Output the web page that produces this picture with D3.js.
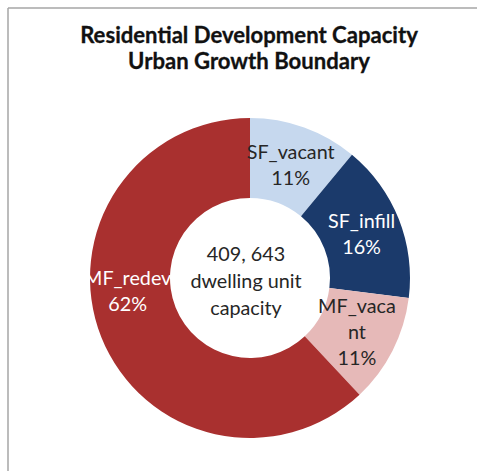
<!DOCTYPE html>
<html>
<head>
<meta charset="utf-8">
<script src="https://cdn.jsdelivr.net/npm/d3@7"></script>
<style>
  html, body { margin: 0; padding: 0; background: #ffffff; }
  svg { display: block; }
</style>
</head>
<body>
<svg id="chart" width="477" height="471"></svg>
<script>
// Residential development capacity by type (share of dwelling units)
const categories = ["SF_vacant", "SF_infill", "MF_vacant", "MF_redev"];
const shares = [11, 16, 11, 62];
const labelLines = [["SF_vacant"], ["SF_infill"], ["MF_vaca", "nt"], ["MF_redev"]];
const sliceColors = ["#c6d8ee", "#1b3a6b", "#e6b9b8", "#a9302f"];
const labelColors = ["#262626", "#ffffff", "#262626", "#ffffff"];
const titleLines = ["Residential Development Capacity", "Urban Growth Boundary"];
const centerLines = ["409, 643", "dwelling unit", "capacity"];

const FONT = "Lato, 'Open Sans', sans-serif";
const svg = d3.select("#chart");

// chart frame (left and top edges visible)
svg.append("line").attr("x1", 8).attr("y1", 8).attr("x2", 477).attr("y2", 8)
  .attr("stroke", "#a6a6a6").attr("stroke-width", 1.5);
svg.append("line").attr("x1", 8).attr("y1", 8).attr("x2", 8).attr("y2", 471)
  .attr("stroke", "#a6a6a6").attr("stroke-width", 1.5);

// size a font so that a sample string spans a given width
function fitSize(text, weight, targetWidth, base) {
  const t = svg.append("text").attr("font-family", FONT).attr("font-weight", weight)
    .attr("font-size", base).text(text);
  const w = t.node().getComputedTextLength();
  t.remove();
  return base * targetWidth / w;
}

// title
const titleSize = fitSize(titleLines[0], "bold", 338, 20);
svg.append("g").selectAll("text").data(titleLines).join("text")
  .attr("x", 249)
  .attr("y", (d, i) => 43 + i * 26)
  .attr("text-anchor", "middle")
  .attr("font-family", FONT).attr("font-weight", "bold")
  .attr("font-size", titleSize)
  .attr("fill", "#111111")
  .attr("stroke", "#111111").attr("stroke-width", 0.3)
  .text(d => d);

// doughnut
const cx = 250, cy = 278, outerR = 160, innerR = 80;
const pie = d3.pie().sort(null).value(d => d);
const arcs = pie(shares);
const arc = d3.arc().innerRadius(innerR).outerRadius(outerR);

const g = svg.append("g").attr("transform", `translate(${cx},${cy})`);
g.selectAll("path").data(arcs).join("path")
  .attr("d", arc)
  .attr("fill", (d, i) => sliceColors[i]);

// data labels
const labelSize = fitSize("SF_vacant", "normal", 88, 18);
const lineGap = 26;
const labelR = (innerR + outerR) / 2;
const isLargest = d => d.data === d3.max(shares);
function labelAngle(d) {
  // the large slice's label sits on the left side of the ring
  if (isLargest(d)) return d.startAngle + (d.endAngle - d.startAngle) * 0.57;
  return (d.startAngle + d.endAngle) / 2;
}
const labels = g.selectAll("g.label").data(arcs).join("g")
  .attr("class", "label")
  .attr("transform", d => {
    const a = labelAngle(d);
    const r = isLargest(d) ? labelR + 3 : labelR;
    return `translate(${r * Math.sin(a)},${-r * Math.cos(a)})`;
  });
labels.each(function (d, i) {
  const lines = labelLines[i].concat([shares[i] + "%"]);
  const top = -(lines.length - 1) * lineGap / 2;
  d3.select(this).selectAll("text").data(lines).join("text")
    .attr("x", 0)
    .attr("y", (l, j) => top + j * lineGap)
    .attr("dy", "0.35em")
    .attr("text-anchor", "middle")
    .attr("font-family", FONT)
    .attr("font-size", labelSize)
    .attr("fill", labelColors[i])
    .text(l => l);
});

// center annotation
g.append("g").selectAll("text").data(centerLines).join("text")
  .attr("x", -4)
  .attr("y", (d, i) => (i - 1) * 27 + 3)
  .attr("dy", "0.35em")
  .attr("text-anchor", "middle")
  .attr("font-family", FONT)
  .attr("font-size", labelSize)
  .attr("fill", "#262626")
  .text(d => d);
</script>
</body>
</html>
